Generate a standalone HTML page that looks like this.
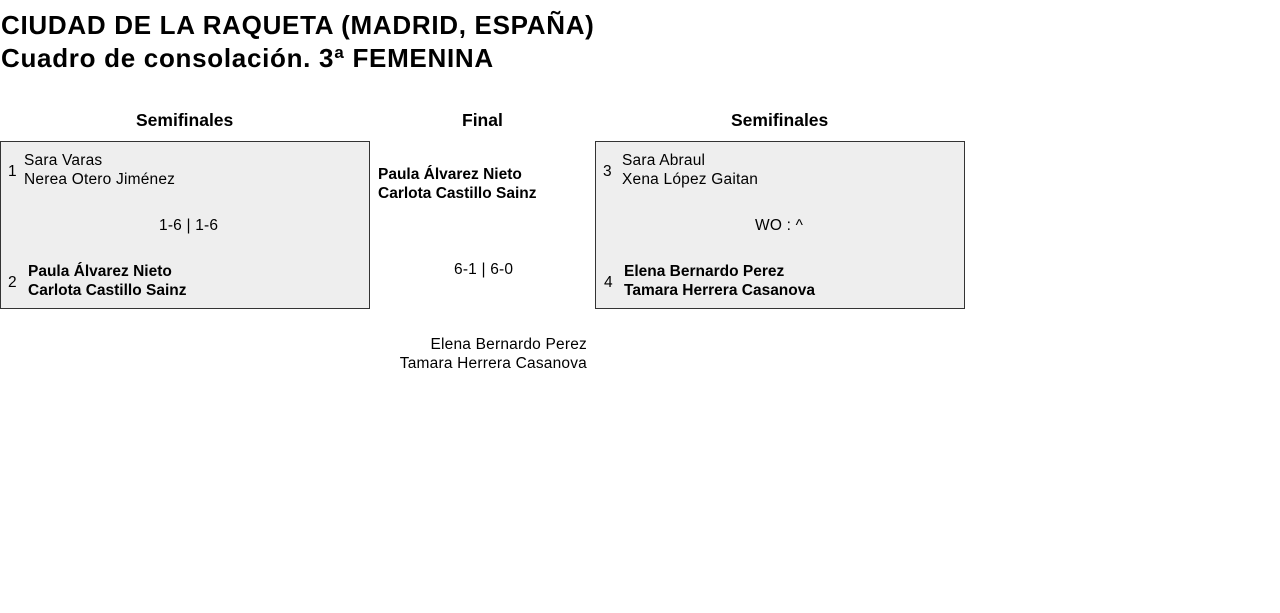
<!DOCTYPE html>
<html><head><meta charset="utf-8"><style>
body{margin:0;width:1280px;height:613px;background:#fff;font-family:"Liberation Sans",sans-serif;color:#000;position:relative;overflow:hidden}
.a{position:absolute;white-space:nowrap}
.t{font-size:26px;line-height:33px;font-weight:bold;letter-spacing:0.7px}
.h{font-size:17.5px;font-weight:bold}
.n{font-size:15.5px;line-height:19px;letter-spacing:0.2px}
.b{font-weight:bold;letter-spacing:0}
.box{position:absolute;background:#eee;border:1px solid #333;box-sizing:border-box}
</style></head><body>
<div class="a t" style="left:1px;top:9px">CIUDAD DE LA RAQUETA (MADRID, ESPAÑA)<br>Cuadro de consolación. 3ª FEMENINA</div>
<div class="a h" style="left:136px;top:110px">Semifinales</div>
<div class="a h" style="left:462px;top:110px">Final</div>
<div class="a h" style="left:731px;top:110px">Semifinales</div>
<div class="box" style="left:0;top:141px;width:370px;height:168px"></div>
<div class="box" style="left:595px;top:141px;width:370px;height:168px"></div>
<div class="a n" style="left:8px;top:162px">1</div>
<div class="a n" style="left:24px;top:151px">Sara Varas<br>Nerea Otero Jiménez</div>
<div class="a n" style="left:159px;top:216px">1-6 | 1-6</div>
<div class="a n" style="left:8px;top:273px">2</div>
<div class="a n b" style="left:28px;top:262px">Paula Álvarez Nieto<br>Carlota Castillo Sainz</div>
<div class="a n b" style="left:378px;top:165px">Paula Álvarez Nieto<br>Carlota Castillo Sainz</div>
<div class="a n" style="left:454px;top:260px">6-1 | 6-0</div>
<div class="a n" style="right:693px;top:335px;text-align:right">Elena Bernardo Perez<br>Tamara Herrera Casanova</div>
<div class="a n" style="left:603px;top:162px">3</div>
<div class="a n" style="left:622px;top:151px">Sara Abraul<br>Xena López Gaitan</div>
<div class="a n" style="left:755px;top:216px">WO : ^</div>
<div class="a n" style="left:604px;top:273px">4</div>
<div class="a n b" style="left:624px;top:262px">Elena Bernardo Perez<br>Tamara Herrera Casanova</div>
</body></html>
